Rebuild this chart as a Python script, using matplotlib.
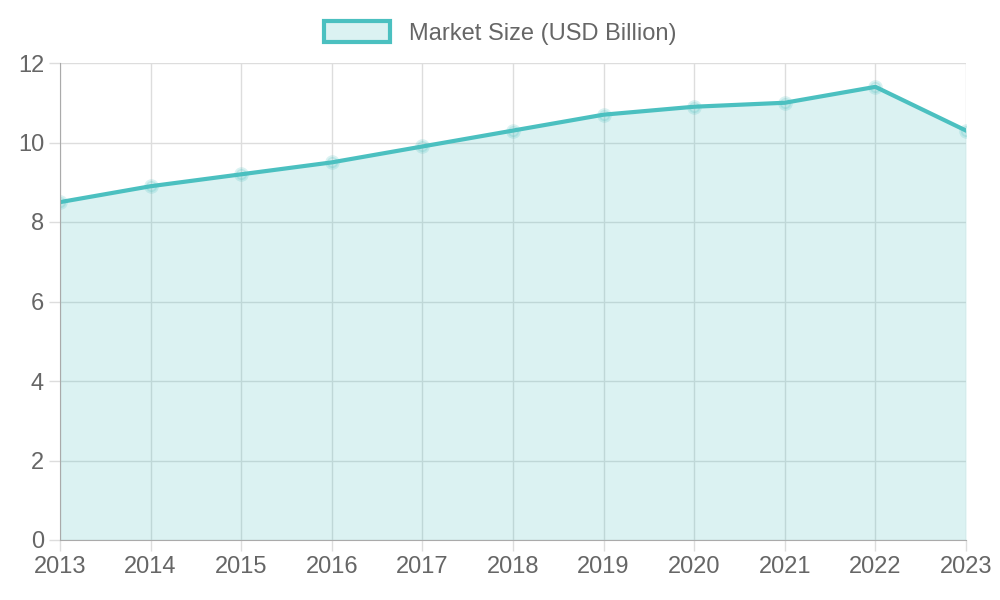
import matplotlib.pyplot as plt
from matplotlib.patches import Patch

years = [2013, 2014, 2015, 2016, 2017, 2018, 2019, 2020, 2021, 2022, 2023]
market_size = [8.5, 8.9, 9.2, 9.5, 9.9, 10.3, 10.7, 10.9, 11.0, 11.4, 10.3]

teal = '#4bc0c0'
plt.rcParams['font.family'] = ['Liberation Sans', 'DejaVu Sans']

fig = plt.figure(figsize=(10, 6), dpi=100)
ax = fig.add_axes([0.060, 0.100, 0.906, 0.795])

ax.fill_between(years, market_size, 0, color=teal, alpha=0.2, linewidth=0)
ax.plot(years, market_size, color=teal, linewidth=3, marker='o', markersize=8,
        markerfacecolor=(75/255, 192/255, 192/255, 0.2), markeredgewidth=2.5)

ax.set_xlim(2013, 2023)
ax.set_ylim(0, 12)
ax.set_xticks(years)
ax.set_yticks(range(0, 13, 2))
ax.grid(True, color='#dddddd', linewidth=1)
ax.set_axisbelow(True)
for side in ['top', 'right']:
    ax.spines[side].set_visible(False)
for side in ['left', 'bottom']:
    ax.spines[side].set_color('#aaaaaa')
ax.tick_params(colors='#666666', labelsize=17, length=8, width=1)
ax.tick_params(axis='x', color='#dddddd')
ax.tick_params(axis='y', color='#dddddd')

handle = Patch(facecolor=(75/255, 192/255, 192/255, 0.2), edgecolor=teal, linewidth=3)
fig.legend([handle], ['Market Size (USD Billion)'], loc='upper center',
           bbox_to_anchor=(0.5, 1.0), frameon=False, fontsize=17,
           labelcolor='#666666', handlelength=2.8, handleheight=1.0)

fig.savefig('out.png')
